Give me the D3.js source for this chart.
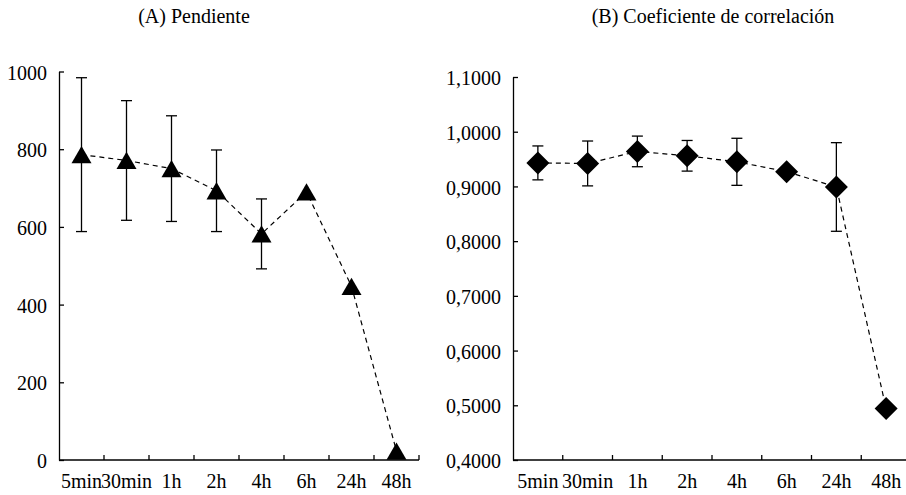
<!DOCTYPE html>
<html>
<head>
<meta charset="utf-8">
<script src="https://cdn.jsdelivr.net/npm/d3@7"></script>
<style>
  html, body { margin: 0; padding: 0; background: #fff; }
  svg { display: block; }
  svg text { font-family: "Liberation Serif", Tinos, "Times New Roman", "DejaVu Serif", "Noto Serif", serif !important; fill: #000; }
</style>
</head>
<body>
<svg id="chart" width="906" height="495"></svg>
<script>
// ---- data ----
const categories = ["5min", "30min", "1h", "2h", "4h", "6h", "24h", "48h"];

const slopeTitle = "(A) Pendiente";
const slopeValues = [786, 771, 750, 693, 582, 690, 447, 23];
const slopeErrors = [198, 154, 136, 105, 90, null, null, null];
const slopeTicks = [0, 200, 400, 600, 800, 1000];

const corrTitle = "(B) Coeficiente de correlación";
const corrValues = [0.943, 0.942, 0.964, 0.956, 0.945, 0.927, 0.899, 0.494];
const corrErrors = [0.031, 0.041, 0.028, 0.028, 0.043, null, 0.081, null];
const corrTicks = [0.4, 0.5, 0.6, 0.7, 0.8, 0.9, 1.0, 1.1];

// ---- drawing ----
const svg = d3.select("#chart");
const FS = 20;
const FONT = '"Liberation Serif", Tinos, "Times New Roman", "DejaVu Serif", "Noto Serif", serif';

function panel(opts) {
  const g = svg.append("g");
  const x = d3.scaleBand().domain(categories).range([opts.x0, opts.x1]).padding(0);
  const y = d3.scaleLinear().domain(opts.domain).range([opts.yBottom, opts.yTop]);

  // title
  g.append("text")
    .attr("x", opts.titleX)
    .attr("y", 23)
    .attr("text-anchor", "middle")
    .attr("font-family", FONT)
    .style("font-size", FS + "px")
    .text(opts.title);

  // y axis
  const yAxis = d3.axisLeft(y)
    .tickValues(opts.ticks)
    .tickSizeInner(-5)
    .tickSizeOuter(0)
    .tickPadding(12)
    .tickFormat(opts.fmt);
  const ya = g.append("g").attr("transform", `translate(${opts.x0},0)`).call(yAxis)
    .attr("font-family", FONT).attr("font-size", FS);
  ya.select(".domain").attr("stroke", "#000").attr("stroke-width", 1.3);
  ya.selectAll(".tick line").attr("stroke", "#000").attr("stroke-width", 1.3);
  ya.selectAll(".tick text")
    .attr("dy", "0.38em")
    .attr("fill", "#000");

  // x axis (labels at category centres, ticks at category boundaries)
  const xAxis = d3.axisBottom(x).tickSize(0).tickPadding(0);
  const xa = g.append("g").attr("transform", `translate(0,${opts.yBottom})`).call(xAxis)
    .attr("font-family", FONT).attr("font-size", FS);
  xa.select(".domain").remove();
  xa.selectAll(".tick text")
    .attr("y", 28)
    .attr("dy", 0)
    .attr("fill", "#000");
  g.append("line")
    .attr("x1", opts.x0).attr("x2", opts.x1)
    .attr("y1", y(opts.domain[0])).attr("y2", y(opts.domain[0]))
    .attr("stroke", "#000").attr("stroke-width", 1.3);
  g.selectAll(".xtick").data(categories).enter().append("line")
    .attr("class", "xtick")
    .attr("x1", d => x(d) + x.bandwidth())
    .attr("x2", d => x(d) + x.bandwidth())
    .attr("y1", y(opts.domain[0]))
    .attr("y2", y(opts.domain[0]) - 5)
    .attr("stroke", "#000").attr("stroke-width", 1.3);

  const cx = d => x(d) + x.bandwidth() / 2;
  const pts = categories.map((c, i) => ({ c, v: opts.values[i], e: opts.errors[i] }));

  // dashed connecting line
  const line = d3.line().x(d => cx(d.c)).y(d => y(d.v));
  g.append("path")
    .datum(pts)
    .attr("d", line)
    .attr("fill", "none")
    .attr("stroke", "#000")
    .attr("stroke-width", 1.2)
    .attr("stroke-dasharray", "5,4");

  // error bars
  const eb = pts.filter(d => d.e != null);
  const cap = 5.5;
  const ebG = g.append("g").attr("stroke", "#000").attr("stroke-width", 1.3).attr("fill", "none");
  ebG.selectAll(".ev").data(eb).enter().append("line")
    .attr("x1", d => cx(d.c)).attr("x2", d => cx(d.c))
    .attr("y1", d => y(d.v + d.e)).attr("y2", d => y(d.v - d.e));
  ebG.selectAll(".et").data(eb).enter().append("line")
    .attr("x1", d => cx(d.c) - cap).attr("x2", d => cx(d.c) + cap)
    .attr("y1", d => y(d.v + d.e)).attr("y2", d => y(d.v + d.e));
  ebG.selectAll(".eb").data(eb).enter().append("line")
    .attr("x1", d => cx(d.c) - cap).attr("x2", d => cx(d.c) + cap)
    .attr("y1", d => y(d.v - d.e)).attr("y2", d => y(d.v - d.e));

  // markers
  g.selectAll(".mk").data(pts).enter().append("path")
    .attr("transform", d => `translate(${cx(d.c)},${y(d.v)})`)
    .attr("d", opts.marker)
    .attr("fill", "#000");
}

const triW = 20, triH = 17.3;
const trianglePath = `M0,${-triH / 2}L${triW / 2},${triH / 2}L${-triW / 2},${triH / 2}Z`;
const dm = 11.5;
const diamondPath = `M0,${-dm}L${dm},0L0,${dm}L${-dm},0Z`;

panel({
  title: slopeTitle, titleX: 194,
  x0: 59, x1: 419, yTop: 71.5, yBottom: 460,
  domain: [0, 1000], ticks: slopeTicks,
  fmt: d3.format("d"),
  values: slopeValues, errors: slopeErrors,
  marker: trianglePath
});

panel({
  title: corrTitle, titleX: 713,
  x0: 513, x1: 911, yTop: 77, yBottom: 460,
  domain: [0.4, 1.1], ticks: corrTicks,
  fmt: d => d3.format(".4f")(d).replace(".", ","),
  values: corrValues, errors: corrErrors,
  marker: diamondPath
});
</script>
</body>
</html>
